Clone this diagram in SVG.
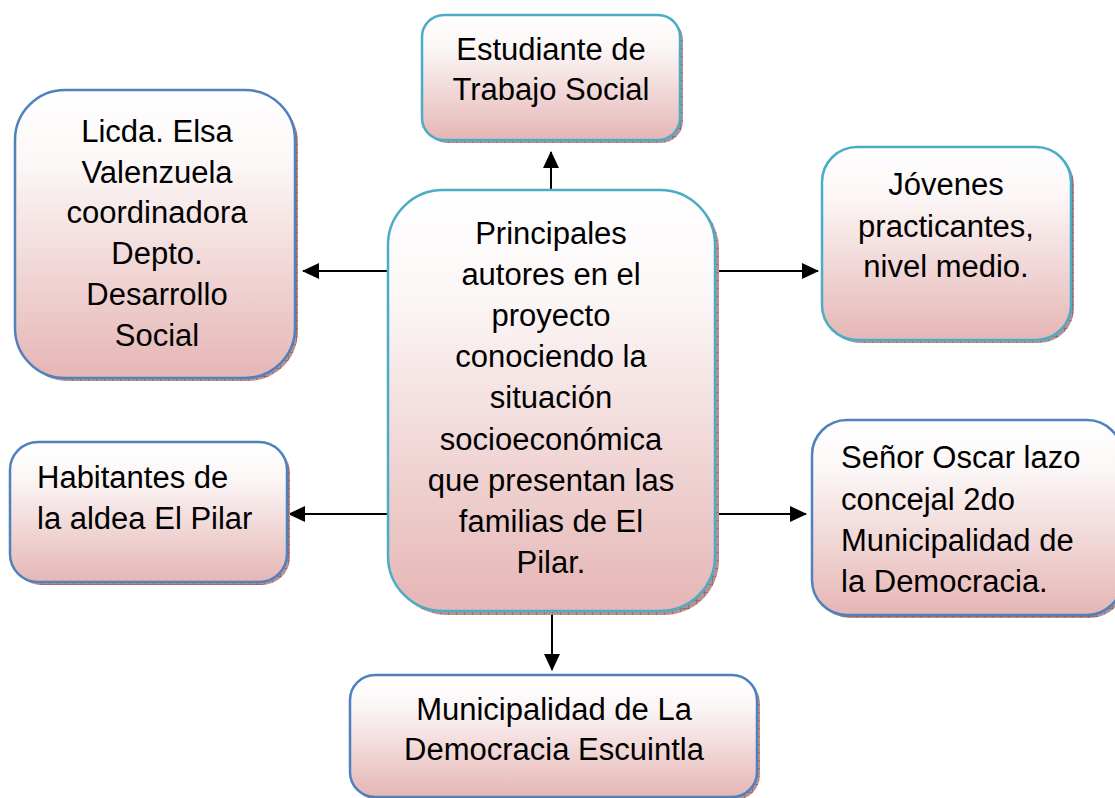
<svg xmlns="http://www.w3.org/2000/svg" width="1115" height="798" viewBox="0 0 1115 798">
<style>
text{font-family:"Liberation Sans",Arial,sans-serif;font-size:31px;fill:#000}
.c{text-anchor:middle}
.box{fill:url(#g);stroke-width:2.5}
.aq{stroke:#4bacc6}
.bl{stroke:#4f81bd}
.sh{fill:url(#hatch)}
.con{stroke:#000;stroke-width:2;fill:none;marker-end:url(#ah)}
</style>
<defs>
<linearGradient id="g" x1="0" y1="0" x2="0" y2="1">
<stop offset="0" stop-color="#ffffff"/>
<stop offset="0.25" stop-color="#fcf7f7"/>
<stop offset="1" stop-color="#e5b6b5"/>
</linearGradient>
<pattern id="hatch" width="8" height="8" patternUnits="userSpaceOnUse">
<rect width="8" height="8" fill="#b79191"/>
<path d="M0 0V8M0 0H8" stroke="#8a4a4a" stroke-width="1"/>
</pattern>
<marker id="ah" markerUnits="userSpaceOnUse" markerWidth="17" markerHeight="16" refX="16" refY="8" orient="auto">
<path d="M0 0L17 8L0 16Z" fill="#000"/>
</marker>
</defs>
<g id="connectors">
<line class="con" x1="551" y1="217" x2="551" y2="152"/>
<line class="con" x1="388" y1="271" x2="303" y2="271"/>
<line class="con" x1="716" y1="271" x2="818" y2="271"/>
<line class="con" x1="391" y1="514" x2="289" y2="514"/>
<line class="con" x1="716" y1="514" x2="806" y2="514"/>
<line class="con" x1="552" y1="603" x2="552" y2="670"/>
</g>
<g id="n-center">
<rect class="sh" x="392" y="194" width="327" height="421" rx="55"/>
<rect class="box aq" x="388" y="190" width="327" height="421" rx="55"/>
<text class="c" x="551" y="244">Principales</text>
<text class="c" x="551" y="285">autores en el</text>
<text class="c" x="551" y="326">proyecto</text>
<text class="c" x="551" y="367">conociendo la</text>
<text class="c" x="551" y="408">situación</text>
<text class="c" x="551" y="450">socioeconómica</text>
<text class="c" x="551" y="491">que presentan las</text>
<text class="c" x="551" y="532">familias de El</text>
<text class="c" x="551" y="573">Pilar.</text>
</g>
<g id="n-top">
<rect class="sh" x="425" y="18" width="258" height="125" rx="22"/>
<rect class="box aq" x="422" y="15" width="258" height="125" rx="22"/>
<text class="c" x="551" y="60">Estudiante de</text>
<text class="c" x="551" y="100">Trabajo Social</text>
</g>
<g id="n-licda">
<rect class="sh" x="18" y="93" width="280" height="288" rx="50"/>
<rect class="box bl" x="15" y="90" width="280" height="288" rx="50"/>
<text class="c" x="157" y="142">Licda. Elsa</text>
<text class="c" x="157" y="183">Valenzuela</text>
<text class="c" x="157" y="223">coordinadora</text>
<text class="c" x="157" y="264">Depto.</text>
<text class="c" x="157" y="305">Desarrollo</text>
<text class="c" x="157" y="346">Social</text>
</g>
<g id="n-jovenes">
<rect class="sh" x="825" y="150" width="249" height="193" rx="35"/>
<rect class="box aq" x="822" y="147" width="249" height="193" rx="35"/>
<text class="c" x="946" y="195">Jóvenes</text>
<text class="c" x="946" y="237">practicantes,</text>
<text class="c" x="946" y="277">nivel medio.</text>
</g>
<g id="n-habitantes">
<rect class="sh" x="13" y="445" width="277" height="140" rx="28"/>
<rect class="box bl" x="10" y="442" width="277" height="140" rx="28"/>
<text x="37" y="488">Habitantes de</text>
<text x="37" y="529">la aldea El Pilar</text>
</g>
<g id="n-senor">
<rect class="sh" x="815" y="423" width="310" height="195" rx="35"/>
<rect class="box bl" x="812" y="420" width="310" height="195" rx="35"/>
<text x="841" y="468">Señor Oscar lazo</text>
<text x="841" y="510">concejal 2do</text>
<text x="841" y="551">Municipalidad de</text>
<text x="841" y="592">la Democracia.</text>
</g>
<g id="n-municipalidad">
<rect class="sh" x="353" y="678" width="407" height="122" rx="25"/>
<rect class="box bl" x="350" y="675" width="407" height="122" rx="25"/>
<text class="c" x="554" y="720">Municipalidad de La</text>
<text class="c" x="554" y="760">Democracia Escuintla</text>
</g>
</svg>
